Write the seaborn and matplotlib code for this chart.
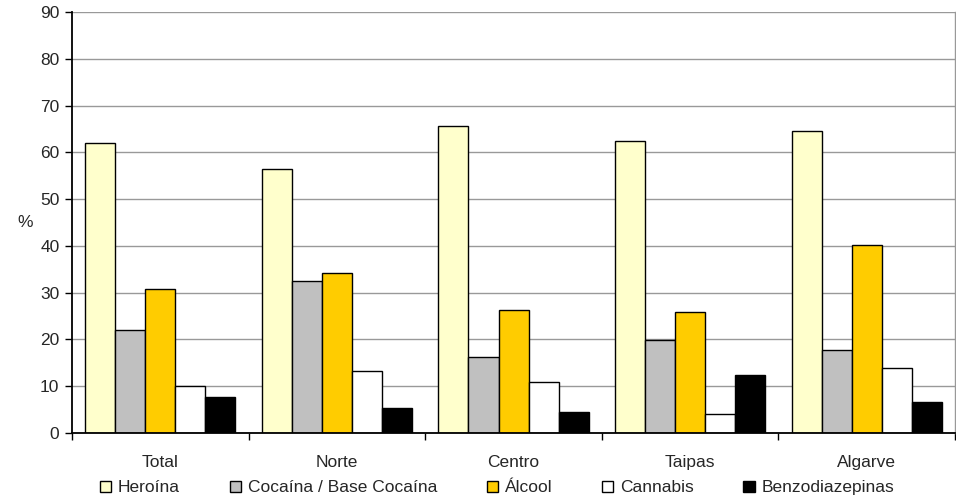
import matplotlib
matplotlib.use("Agg")
import matplotlib.pyplot as plt
from matplotlib.patches import Patch
from matplotlib.ticker import FixedLocator
import seaborn as sns
import pandas as pd

# Values (%)
regions = ["Total", "Norte", "Centro", "Taipas", "Algarve"]
substances = ["Heroína", "Cocaína / Base Cocaína", "Álcool", "Cannabis", "Benzodiazepinas"]
heroina = [62.1, 56.4, 65.7, 62.4, 64.5]
cocaina = [22.0, 32.5, 16.3, 19.9, 17.8]
alcool = [30.7, 34.3, 26.3, 25.9, 40.3]
cannabis = [10.1, 13.3, 11.0, 4.1, 14.0]
benzo = [7.7, 5.3, 4.5, 12.5, 6.6]
colors = ["#FFFFCC", "#C0C0C0", "#FFCC00", "#FFFFFF", "#000000"]

rows = []
for sub, vals in zip(substances, [heroina, cocaina, alcool, cannabis, benzo]):
    for reg, v in zip(regions, vals):
        rows.append({"Região": reg, "Substância": sub, "pct": v})
df = pd.DataFrame(rows)

sns.set_style("white")
plt.rcParams["font.family"] = ["Liberation Sans", "DejaVu Sans"]

fig = plt.figure(figsize=(9.56, 5.01), dpi=100)
ax = fig.add_axes([0.0753, 0.1357, 0.9237, 0.8403])

sns.barplot(data=df, x="Região", y="pct", hue="Substância", order=regions,
            hue_order=substances, palette=colors, width=0.85, gap=0,
            edgecolor="black", linewidth=1, saturation=1, ax=ax, legend=False)

ax.set_ylim(0, 90)
ax.set_xlim(-0.5, 4.5)
ax.set_yticks(range(0, 91, 10))
ax.yaxis.grid(True, color="#999999", linewidth=1)
ax.set_axisbelow(True)

ax.set_xlabel("")
ax.set_ylabel("%", rotation=0, fontsize=12.5, labelpad=11, va="center")
ax.tick_params(axis="y", labelsize=12.5, direction="out", length=5, width=1,
               color="black", left=True, pad=4)
ax.tick_params(axis="x", which="major", labelsize=12.5, length=0, pad=16)
ax.xaxis.set_minor_locator(FixedLocator([i - 0.5 for i in range(6)]))
ax.tick_params(axis="x", which="minor", direction="out", length=5, width=1,
               color="black", bottom=True)

for s in ["left", "bottom"]:
    ax.spines[s].set_color("black")
    ax.spines[s].set_linewidth(1.3)
ax.spines["top"].set_visible(False)
ax.spines["right"].set_color("#999999")
ax.spines["right"].set_linewidth(1)

handles = [Patch(facecolor=c, edgecolor="black", linewidth=1) for c in colors]
fig.legend(handles, substances, loc="center", bbox_to_anchor=(0.52, 0.026),
           ncol=5, frameon=False, fontsize=12.5, handlelength=0.65,
           handleheight=0.65, handletextpad=0.4, columnspacing=2.85)

fig.savefig("out.png", dpi=100)
